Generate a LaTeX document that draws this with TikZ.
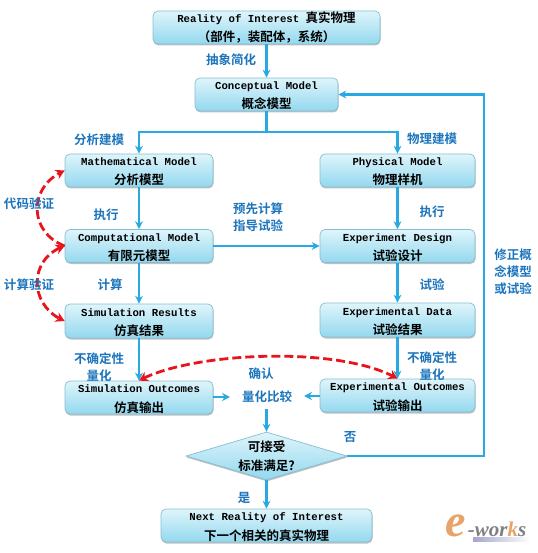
\documentclass[tikz,border=0pt]{standalone}
\usepackage{fontspec}
\setmainfont{Liberation Mono}[BoldFont={* Bold}]
\newfontfamily\cjk{Noto Sans CJK SC}[BoldFont={* Bold}]
\newfontfamily\logofont{Liberation Serif}
\usetikzlibrary{arrows.meta,shapes.geometric,shadows,calc,bending}
\definecolor{flowblue}{HTML}{29A9E1}
\definecolor{labelblue}{HTML}{1C75BC}
\definecolor{edgeblue}{HTML}{86BDD0}
\definecolor{dashred}{HTML}{E8141C}
\definecolor{gradtop}{HTML}{DFF5FB}
\definecolor{gradmid}{HTML}{CDEFF8}
\definecolor{gradbot}{HTML}{93D8EF}
\definecolor{logoorange}{HTML}{E8A468}
\tikzset{
  x=1pt,y=-1pt,
  boxbase/.style={top color=gradtop,middle color=gradmid,bottom color=gradbot,draw=edgeblue,line width=.7pt,
    drop shadow={shadow xshift=.5pt,shadow yshift=-1.5pt,fill=black!45,opacity=.55}},
  flowbox/.style={boxbase,rounded corners=5pt,inner sep=0pt,align=center,text height=29pt,text depth=0pt,font=\bfseries\fontsize{10.7}{19.5}\selectfont,text=black},
  dia/.style={boxbase,diamond,inner sep=0pt,aspect=3.35},
  flow/.style={draw=flowblue,line width=2.6pt,-{Stealth[length=8pt,width=8pt]}},
  flowline/.style={draw=flowblue,line width=2.6pt},
  lab/.style={font=\cjk\bfseries\fontsize{12.5}{17}\selectfont,text=labelblue,align=center,inner sep=0pt},
  check/.style={draw=dashred,line width=2.8pt,dash pattern=on 9pt off 4pt,{Stealth[length=9pt,width=10pt,flex]}-{Stealth[length=9pt,width=10pt,flex]}},
  checkhead/.style={draw=dashred,line width=2.8pt,dash pattern=on 9pt off 4pt,-{Stealth[length=9pt,width=10pt,flex]}},
}
\newcommand{\zh}[1]{{\cjk\fontsize{12.5}{18}\selectfont #1}}
\begin{document}
\begin{tikzpicture}
\useasboundingbox (0,0) rectangle (537,553);
% boxes
\node[flowbox,minimum width=227pt,minimum height=33pt] (roi) at (266.5,27.5) {Reality of Interest \zh{真实物理}\\\zh{（部件，装配体，系统）}};
\node[flowbox,minimum width=143pt,minimum height=33pt] (concept) at (266.5,94.5) {Conceptual Model\\\zh{概念模型}};
\node[flowbox,minimum width=148pt,minimum height=33pt] (math) at (139,170.5) {Mathematical Model\\\zh{分析模型}};
\node[flowbox,minimum width=148pt,minimum height=33pt] (comp) at (139,246) {Computational Model\\\zh{有限元模型}};
\node[flowbox,minimum width=148pt,minimum height=34pt] (simres) at (139,321) {Simulation Results\\\zh{仿真结果}};
\node[flowbox,minimum width=148pt,minimum height=33pt] (simout) at (139,397.5) {Simulation Outcomes\\\zh{仿真输出}};
\node[flowbox,minimum width=155pt,minimum height=33pt] (phys) at (397.5,170.5) {Physical Model\\\zh{物理样机}};
\node[flowbox,minimum width=155pt,minimum height=33pt] (expd) at (397.5,246) {Experiment Design\\\zh{试验设计}};
\node[flowbox,minimum width=155pt,minimum height=34pt] (expdata) at (397.5,320) {Experimental Data\\\zh{试验结果}};
\node[flowbox,minimum width=155pt,minimum height=33pt] (expout) at (397.5,395.5) {Experimental Outcomes\\\zh{试验输出}};
\node[dia,minimum width=161pt,minimum height=48pt] (accept) at (266.5,456) {};
\node[inner sep=0pt,align=center,font=\cjk\bfseries\fontsize{12.5}{19}\selectfont] (accepttext) at (266.5,456) {可接受\\标准满足?};
\node[flowbox,minimum width=211pt,minimum height=33pt] (next) at (266.5,525.5) {Next Reality of Interest\\\zh{下一个相关的真实物理}};
\node[lab] (compare) at (267,397) {量化比较};
% connectors
\coordinate (split) at (266.5,132);
\coordinate (splitl) at (139,132);
\coordinate (splitr) at (397.5,132);
\coordinate (fbb) at (484,456);
\coordinate (fbt) at (484,94.5);
\coordinate (cmpl) at (230,397);
\coordinate (cmpr) at (304,396);
\coordinate (cmpb) at (266.5,409);
\draw[flow] (roi) -- (concept);
\draw[flowline] (concept) -- (split);
\draw[flow] (split) -- (splitl) -- (math);
\draw[flow] (split) -- (splitr) -- (phys);
\draw[flow] (math) -- (comp);
\draw[flow] (comp) -- (simres);
\draw[flow] (simres) -- (simout);
\draw[flow] (phys) -- (expd);
\draw[flow] (expd) -- (expdata);
\draw[flow] (expdata) -- (expout);
\draw[flow] (comp.east) -- (expd.west);
\draw[flow] (simout.east |- cmpl) -- (cmpl);
\draw[flow] (expout.west |- cmpr) -- (cmpr);
\draw[flow] (cmpb) -- (accept.north);
\draw[flow] (accept) -- (next);
\draw[flow] (accept.east) -- (fbb) -- (fbt) -- (concept.east);
% red dashed
\draw[checkhead] (comp.west) .. controls (28,232) and (28,186) .. (math.west);
\draw[check] (comp.west) .. controls (28,258) and (28,306) .. (simres.west);
\draw[check] (simout.north) .. controls (190,352) and (340,345) .. (expout.north);
% labels
\node[lab] (l1) at (231,60) {抽象简化};
\node[lab] (l2) at (99,140) {分析建模};
\node[lab] (l3) at (432,139) {物理建模};
\node[lab] (l4) at (106,215) {执行};
\node[lab] (l5) at (432,212) {执行};
\node[lab] (l6) at (258,217) {预先计算\\指导试验};
\node[lab] (l7) at (29,204) {代码验证};
\node[lab] (l8) at (29,285) {计算验证};
\node[lab] (l9) at (110,285) {计算};
\node[lab] (l10) at (432,285) {试验};
\node[lab] (l11) at (99,367) {不确定性\\量化};
\node[lab] (l12) at (432,366) {不确定性\\量化};
\node[lab] (l13) at (261,374) {确认};
\node[lab] (l14) at (350,437) {否};
\node[lab] (l15) at (244,498) {是};
\node[lab] (l16) at (513,272) {修正概\\念模型\\或试验};
% logo
\node[inner sep=0pt,text=logoorange,font=\logofont\bfseries\itshape\fontsize{46}{46}\selectfont] (logoe) at (456,526) {e};
\node[inner sep=0pt,text=black!50,font=\logofont\bfseries\itshape\fontsize{21}{21}\selectfont] (logow) at (497,529) {-wor\textcolor{logoorange}{k}s};
\shade[left color=blue!45!black!35!white,right color=white] (473,537) rectangle (530,541);
\end{tikzpicture}
\end{document}
